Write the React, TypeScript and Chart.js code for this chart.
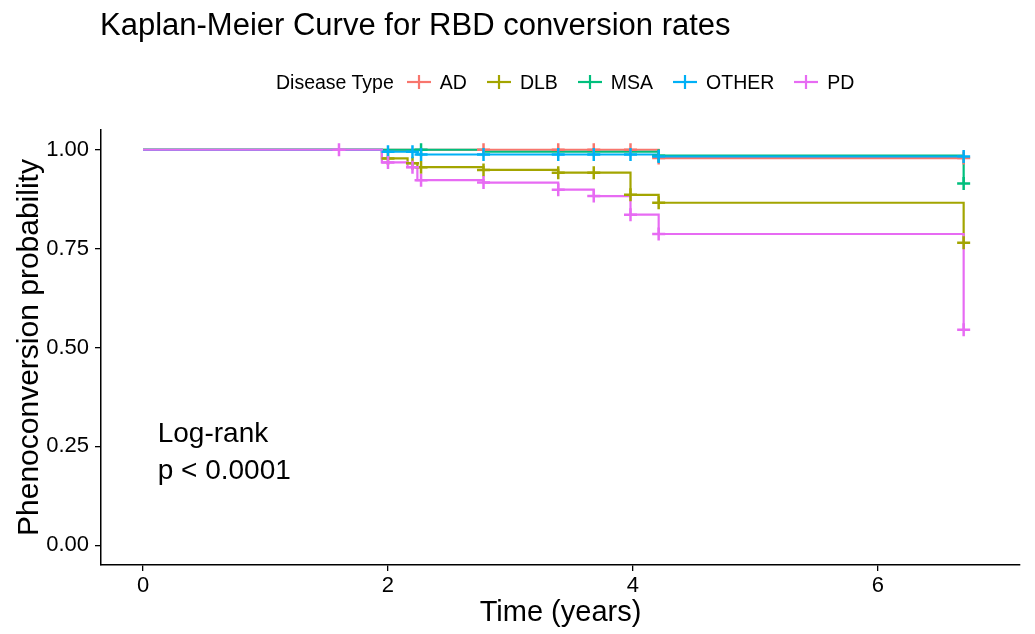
import React, { useEffect, useRef } from "react";
import { Chart, registerables } from "chart.js";

Chart.register(...registerables);

const groups = ["AD", "DLB", "MSA", "OTHER", "PD"];
const groupColors = ["#F8766D", "#A3A500", "#00BF7D", "#00B0F6", "#E76BF3"];

// Kaplan-Meier steps (time in years, survival after the step)
const adTimes = [0, 4.21, 6.7];
const adSurv = [1, 0.979, 0.979];
const dlbTimes = [0, 1.95, 2.16, 2.24, 2.78, 3.39, 3.98, 4.21, 6.7];
const dlbSurv = [1, 0.978, 0.966, 0.956, 0.949, 0.942, 0.886, 0.866, 0.765];
const msaTimes = [0, 2.78, 4.21, 6.7];
const msaSurv = [1, 0.995, 0.985, 0.915];
const otherTimes = [0, 1.95, 2.24, 4.21, 6.7];
const otherSurv = [1, 0.995, 0.988, 0.983, 0.983];
const pdTimes = [0, 1.95, 2.16, 2.24, 2.78, 3.39, 3.68, 3.98, 4.21, 6.7];
const pdSurv = [1, 0.968, 0.956, 0.923, 0.917, 0.899, 0.883, 0.836, 0.787, 0.545];

// Censor marks
const adCensorTimes = [2.78, 3.39, 3.68, 3.98, 4.21, 6.7];
const adCensorSurv = [1, 1, 1, 1, 0.979, 0.979];
const dlbCensorTimes = [2.0, 2.2, 2.27, 2.78, 3.39, 3.68, 3.98, 4.21, 6.7];
const dlbCensorSurv = [0.978, 0.966, 0.956, 0.949, 0.942, 0.942, 0.886, 0.866, 0.765];
const msaCensorTimes = [2.27, 4.21, 6.7];
const msaCensorSurv = [1, 0.985, 0.915];
const otherCensorTimes = [2.0, 2.2, 2.27, 2.78, 3.39, 3.68, 3.98, 4.21, 6.7];
const otherCensorSurv = [0.995, 0.995, 0.988, 0.988, 0.988, 0.988, 0.988, 0.983, 0.983];
const pdCensorTimes = [1.6, 2.0, 2.2, 2.27, 2.78, 3.39, 3.68, 3.98, 4.21, 6.7];
const pdCensorSurv = [1, 0.968, 0.956, 0.923, 0.917, 0.899, 0.883, 0.836, 0.787, 0.545];

const xTicks = [0, 2, 4, 6];
const yTicks = [0, 0.25, 0.5, 0.75, 1];

const pvalLines = ["Log-rank", "p < 0.0001"];
const pvalX = 0.12;
const pvalY = [0.26, 0.167];

const FONT = '"Liberation Sans", Arial, Helvetica, sans-serif';

const stepSets = [
  [adTimes, adSurv],
  [dlbTimes, dlbSurv],
  [msaTimes, msaSurv],
  [otherTimes, otherSurv],
  [pdTimes, pdSurv],
];
const censorSets = [
  [adCensorTimes, adCensorSurv],
  [dlbCensorTimes, dlbCensorSurv],
  [msaCensorTimes, msaCensorSurv],
  [otherCensorTimes, otherCensorSurv],
  [pdCensorTimes, pdCensorSurv],
];

function toPoints(xs: number[], ys: number[]) {
  return xs.map((x, i) => ({ x, y: ys[i] }));
}

const pvalPlugin = {
  id: "pval",
  afterDatasetsDraw(chart: any) {
    const { ctx, scales } = chart;
    ctx.save();
    ctx.font = `28px ${FONT}`;
    ctx.fillStyle = "#000";
    ctx.textAlign = "left";
    ctx.textBaseline = "alphabetic";
    pvalLines.forEach((t, i) => {
      ctx.fillText(t, scales.x.getPixelForValue(pvalX), scales.y.getPixelForValue(pvalY[i]));
    });
    ctx.restore();
  },
};

function LegendSymbol({ color }: { color: string }) {
  return (
    <svg width={24} height={16} style={{ display: "block" }}>
      <line x1={0} y1={8} x2={24} y2={8} stroke={color} strokeWidth={2.2} />
      <line x1={12} y1={1} x2={12} y2={15} stroke={color} strokeWidth={2.2} />
    </svg>
  );
}

export default function App() {
  const canvasRef = useRef<HTMLCanvasElement | null>(null);

  useEffect(() => {
    if (!canvasRef.current) return;
    const lineDatasets = groups.map((g, i) => ({
      label: g,
      data: toPoints(stepSets[i][0], stepSets[i][1]),
      borderColor: groupColors[i],
      backgroundColor: groupColors[i],
      borderWidth: 2.2,
      stepped: "before" as const,
      pointRadius: 0,
      fill: false,
      order: 5 + (groups.length - 1 - i),
    }));
    const censorDatasets = groups.map((g, i) => ({
      label: g + " censor",
      data: toPoints(censorSets[i][0], censorSets[i][1]),
      borderColor: groupColors[i],
      backgroundColor: groupColors[i],
      showLine: false,
      pointStyle: "cross" as const,
      pointRadius: 6.5,
      pointBorderWidth: 2.5,
      order: groups.length - 1 - i,
    }));

    const chart = new Chart(canvasRef.current, {
      type: "line",
      data: { datasets: [...lineDatasets, ...censorDatasets] as any },
      options: {
        responsive: false,
        animation: false,
        layout: { padding: { top: 130, right: 15, left: 0, bottom: 0 } },
        plugins: { legend: { display: false }, tooltip: { enabled: false } },
        scales: {
          x: {
            type: "linear",
            min: -0.343,
            max: 7.16,
            afterBuildTicks: (s: any) => {
              s.ticks = xTicks.map((v) => ({ value: v }));
            },
            afterFit: (s: any) => {
              s.height = 69;
            },
            grid: { drawOnChartArea: false, drawTicks: true, tickLength: 6, color: "#000", lineWidth: 1.3 },
            border: { display: true, color: "#000", width: 1.5 },
            ticks: {
              color: "#000",
              padding: 2,
              font: { family: FONT, size: 22 },
              maxRotation: 0,
              callback: (v: any) => String(v),
            },
            title: {
              display: true,
              text: "Time (years)",
              color: "#000",
              font: { family: FONT, size: 29 },
              padding: { top: 4, bottom: 4 },
            },
          },
          y: {
            type: "linear",
            min: -0.05,
            max: 1.05,
            afterBuildTicks: (s: any) => {
              s.ticks = yTicks.map((v) => ({ value: v }));
            },
            afterFit: (s: any) => {
              s.width = 101;
            },
            grid: { drawOnChartArea: false, drawTicks: true, tickLength: 6, color: "#000", lineWidth: 1.3 },
            border: { display: true, color: "#000", width: 1.5 },
            ticks: {
              color: "#000",
              padding: 6,
              font: { family: FONT, size: 22 },
              callback: (v: any) => Number(v).toFixed(2),
            },
            title: {
              display: true,
              text: "Phenoconversion probability",
              color: "#000",
              font: { family: FONT, size: 30 },
              padding: { top: 12, bottom: 4 },
            },
          },
        },
      },
      plugins: [pvalPlugin],
    });
    return () => chart.destroy();
  }, []);

  return (
    <div
      style={{
        position: "fixed",
        left: 0,
        top: 0,
        width: 1035,
        height: 634,
        background: "#fff",
        fontFamily: FONT,
        color: "#000",
      }}
    >
      <canvas ref={canvasRef} width={1035} height={634} style={{ position: "absolute", left: 0, top: 0 }} />
      <div
        style={{
          position: "absolute",
          left: 100,
          top: 7,
          fontSize: 31,
          lineHeight: "36px",
          whiteSpace: "nowrap",
        }}
      >
        Kaplan-Meier Curve for RBD conversion rates
      </div>
      <div
        style={{
          position: "absolute",
          left: 276,
          top: 70,
          height: 24,
          display: "flex",
          alignItems: "center",
          fontSize: 19.5,
          lineHeight: "24px",
          whiteSpace: "nowrap",
        }}
      >
        <span>Disease Type</span>
        {groups.map((g, i) => (
          <React.Fragment key={g}>
            <span style={{ marginLeft: i === 0 ? 13 : 20 }}>
              <LegendSymbol color={groupColors[i]} />
            </span>
            <span style={{ marginLeft: 9 }}>{g}</span>
          </React.Fragment>
        ))}
      </div>
    </div>
  );
}
